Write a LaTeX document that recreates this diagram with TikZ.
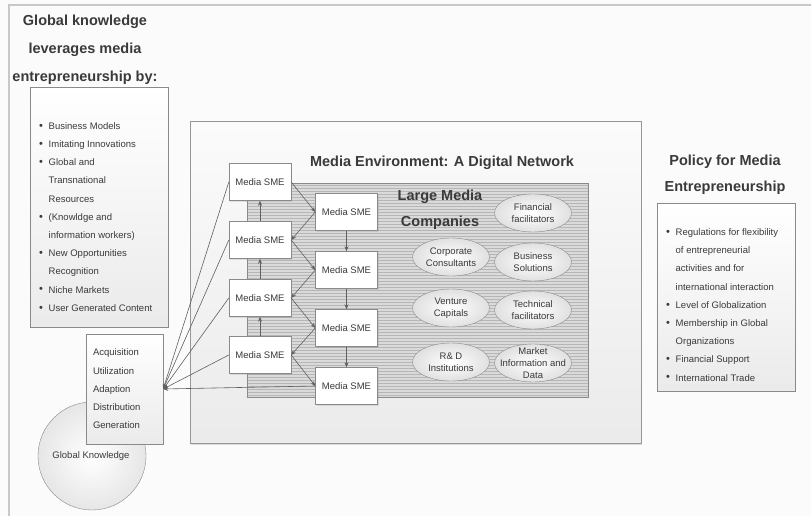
\documentclass[tikz,border=0pt]{standalone}
\usepackage{fontspec}
\setmainfont{Liberation Sans}
\usetikzlibrary{shapes.geometric,shadows,arrows.meta}
\definecolor{txt}{HTML}{3A3A3A}
\definecolor{bgc}{HTML}{FBFBFB}
\definecolor{framec}{HTML}{C8C8C8}
\definecolor{bdr}{HTML}{8A8A8A}
\definecolor{arrc}{HTML}{606060}
\definecolor{hatchbg}{HTML}{DADADA}
\definecolor{hatchln}{HTML}{B6B6B6}
\definecolor{ellbot}{HTML}{E0E0E0}
\newcommand\smtxt{\fontsize{9.5}{12}\selectfont}
\newcommand\listtxt{\fontsize{9.5}{18.2}\selectfont}
\newcommand\bigtxt{\fontsize{14.5}{28}\selectfont\bfseries}
\newcommand\bul{\makebox[9.5pt][l]{\raisebox{0.2pt}{\fontsize{11}{11}\selectfont\textbullet}}}
\newcommand\ind{\hspace*{9.5pt}}
\begin{document}
\begin{tikzpicture}[x=1pt,y=-1pt,
  every node/.style={text=txt},
  sme/.style={draw=bdr, fill=white, minimum width=62pt, minimum height=37pt, inner sep=1pt, font=\smtxt,
    drop shadow={opacity=0.2,shadow xshift=1pt,shadow yshift=-1pt}},
  ellshape/.style={ellipse, draw=bdr, inner color=white, outer color=ellbot, minimum width=77pt, minimum height=38pt, inner sep=0pt},
  elltxt/.style={align=center, font=\smtxt, inner sep=0pt},
  arr/.style={draw=arrc, line width=0.6pt, -{Stealth[length=5pt,width=4pt]}},
  listbox/.style={draw=bdr, top color=white, bottom color=hatchbg!55, inner sep=0pt,
    drop shadow={opacity=0.2,shadow xshift=1pt,shadow yshift=-1pt}},
  title/.style={align=center, font=\bigtxt, inner sep=0pt}
]
\fill[bgc] (0,0) rectangle (811,516);
\useasboundingbox (0,0) rectangle (811,516);
\draw[framec, line width=1.5pt] (9,516) -- (9,5) -- (811,5);

% left title and list
\node[title] (ltitle) at (85,50) {Global knowledge\\leverages media\\entrepreneurship by:};
\node[listbox, minimum width=138pt, minimum height=240pt] (lbox) at (99,207) {};
\node[anchor=west, inner sep=0pt, align=left, font=\listtxt] (ltext) at (39,217)
 {\bul Business Models\\
  \bul Imitating Innovations\\
  \bul Global and\\
  \ind Transnational\\
  \ind Resources\\
  \bul (Knowldge and\\
  \ind information workers)\\
  \bul New Opportunities\\
  \ind Recognition\\
  \bul Niche Markets\\
  \bul User Generated Content};

% right title and list
\node[title, font=\fontsize{14.5}{26}\selectfont\bfseries] (rtitle) at (725,175) {Policy for Media\\Entrepreneurship};
\node[listbox, minimum width=138pt, minimum height=188pt] (rbox) at (726,297) {};
\node[anchor=west, inner sep=0pt, align=left, font=\listtxt] (rtext) at (666,305)
 {\bul Regulations for flexibility\\
  \ind of entrepreneurial\\
  \ind activities and for\\
  \ind international interaction\\
  \bul Level of Globalization\\
  \bul Membership in Global\\
  \ind Organizations\\
  \bul Financial Support\\
  \bul International Trade};

% environment
\node[draw=bdr!90, top color=bgc, bottom color=hatchbg!55, minimum width=451pt, minimum height=322pt, inner sep=0pt,
  drop shadow={opacity=0.25,shadow xshift=1pt,shadow yshift=-1.5pt}] (env) at (415.5,282) {};
\node[title] (envt) at (442,163) {Media Environment: A Digital Network};
\node[fill=hatchbg, minimum width=341pt, minimum height=214pt, inner sep=0pt] (hatch) at (417.5,290) {};
\foreach \yy in {185,188,...,395} \draw[hatchln, line width=0.7pt] (247,\yy) -- (588,\yy);
\draw[bdr] (hatch.north west) rectangle (hatch.south east);

\node[title, font=\fontsize{14.5}{26}\selectfont\bfseries] (lmc) at (440,210) {Large Media\\Companies};

% ellipses
\node[ellshape] (fin) at (533,213) {};
\node[elltxt] (fint) at (fin) {Financial\\facilitators};
\node[ellshape] (cor) at (451,257) {};
\node[elltxt] (cort) at (cor) {Corporate\\Consultants};
\node[ellshape] (bus) at (533,262) {};
\node[elltxt] (bust) at (bus) {Business\\Solutions};
\node[ellshape] (ven) at (451,308) {};
\node[elltxt] (vent) at (ven) {Venture\\Capitals};
\node[ellshape] (tec) at (533,310) {};
\node[elltxt] (tect) at (tec) {Technical\\facilitators};
\node[ellshape] (rnd) at (451,362) {};
\node[elltxt] (rndt) at (rnd) {R\& D\\Institutions};
\node[ellshape] (mkt) at (533,363) {};
\node[elltxt] (mktt) at (mkt) {Market\\Information and\\Data};

% SMEs
\node[sme] (a1) at (260,182) {Media SME};
\node[sme] (a2) at (260,240) {Media SME};
\node[sme] (a3) at (260,298) {Media SME};
\node[sme] (a4) at (260,355) {Media SME};
\node[sme] (b1) at (346.5,212) {Media SME};
\node[sme] (b2) at (346.5,270) {Media SME};
\node[sme] (b3) at (346.5,328) {Media SME};
\node[sme] (b4) at (346.5,386) {Media SME};

\foreach \i/\j in {1/2,2/3,3/4} {
  \draw[arr] (a\j.north) -- (a\i.south);
  \draw[arr] (b\i.south) -- (b\j.north);
  \draw[arr] (b\i.west) -- (a\j.east);
}
\foreach \i in {1,2,3,4} \draw[arr] (a\i.east) -- (b\i.west);

% global knowledge
\node[circle, draw=bdr, inner color=white, outer color=ellbot!80, minimum size=108pt, inner sep=0pt] (gk) at (92,456) {};
\node[font=\smtxt, inner sep=0pt] (gkt) at (91,456) {Global Knowledge};
\node[draw=bdr, top color=white, bottom color=hatchbg!55, text width=63pt, minimum height=110pt, inner sep=7pt,
  align=left, font=\listtxt] (acq) at (124.5,389)
  {Acquisition\\Utilization\\Adaption\\Distribution\\Generation};

\foreach \n in {a1,a2,a3,a4,b4} \draw[arr] (\n.west) -- (acq.east);
\end{tikzpicture}
\end{document}
